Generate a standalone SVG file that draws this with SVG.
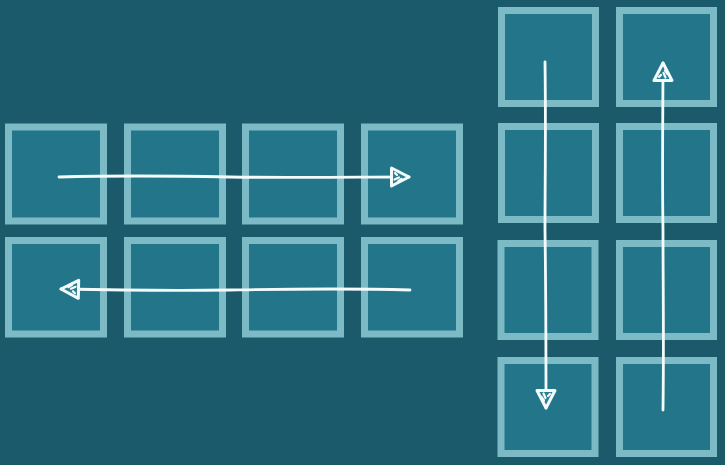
<svg xmlns="http://www.w3.org/2000/svg" width="725" height="465" viewBox="0 0 725 465">
<style>
.bg{fill:#1b5a6b}
.cell{fill:#23768a;stroke:#7cbac6;stroke-width:7}
.arrow{fill:none;stroke:#f4fbfc;stroke-width:2.8;stroke-linecap:round;stroke-linejoin:round}
</style>
<defs>
<marker id="head" viewBox="0 0 24 24" refX="21" refY="12" markerWidth="24" markerHeight="24" markerUnits="userSpaceOnUse" orient="auto">
<path d="M3.5,3 L21,12 L3.5,21 Z" fill="#2a7f92" stroke="#f4fbfc" stroke-width="3" stroke-linejoin="round"/>
<path d="M7,8 L9,10 M6.5,14.5 L11,12.5 M10,16.5 L13.5,14" stroke="#f4fbfc" stroke-width="2.2" stroke-linecap="round"/>
</marker>
</defs>
<rect class="bg" x="0" y="0" width="725" height="465"/>
<g id="left-grid">
<g id="l-r1-c1"><rect class="cell" x="8.5" y="127" width="95" height="94"/></g>
<g id="l-r1-c2"><rect class="cell" x="127.5" y="127" width="95" height="94"/></g>
<g id="l-r1-c3"><rect class="cell" x="245.5" y="127" width="95" height="94"/></g>
<g id="l-r1-c4"><rect class="cell" x="364.5" y="127" width="95" height="94"/></g>
<g id="l-r2-c1"><rect class="cell" x="8.5" y="240.5" width="95" height="93.5"/></g>
<g id="l-r2-c2"><rect class="cell" x="127.5" y="240.5" width="95" height="93.5"/></g>
<g id="l-r2-c3"><rect class="cell" x="245.5" y="240.5" width="95" height="93.5"/></g>
<g id="l-r2-c4"><rect class="cell" x="364.5" y="240.5" width="95" height="93.5"/></g>
</g>
<g id="right-grid">
<g id="r-r1-c1"><rect class="cell" x="501.5" y="10.5" width="94" height="93"/></g>
<g id="r-r1-c2"><rect class="cell" x="619.5" y="10.5" width="94" height="93"/></g>
<g id="r-r2-c1"><rect class="cell" x="501.5" y="126.5" width="94" height="93"/></g>
<g id="r-r2-c2"><rect class="cell" x="619.5" y="126.5" width="94" height="93"/></g>
<g id="r-r3-c1"><rect class="cell" x="501" y="243.5" width="94" height="93"/></g>
<g id="r-r3-c2"><rect class="cell" x="619.5" y="243.5" width="94" height="93"/></g>
<g id="r-r4-c1"><rect class="cell" x="501" y="360.5" width="94" height="93"/></g>
<g id="r-r4-c2"><rect class="cell" x="619.5" y="360.5" width="94" height="93"/></g>
</g>
<g id="connectors">
<path class="arrow" marker-end="url(#head)" d="M59,177 C130,175 180,176 230,177 C300,178 360,177 409,177"/>
<path class="arrow" marker-end="url(#head)" d="M410,290 C340,288 290,289 230,290 C160,291 110,290 61,289"/>
<path class="arrow" marker-end="url(#head)" d="M545,62 C546,130 545,180 545,230 C546,300 546,360 546,408"/>
<path class="arrow" marker-end="url(#head)" d="M663,410 C664,340 663,290 663,230 C662,170 663,110 663,63"/>
</g>
</svg>
